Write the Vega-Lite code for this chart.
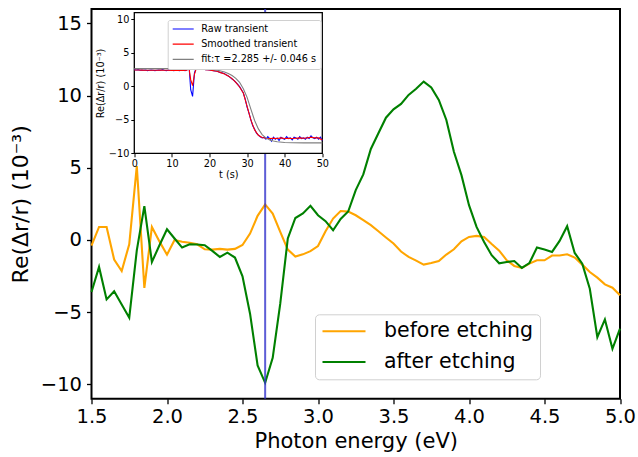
{
  "$schema": "https://vega.github.io/schema/vega-lite/v6.json",
  "width": 528.5,
  "height": 389.7,
  "autosize": {"type": "none"},
  "padding": {"left": 91.5, "top": 9, "right": 18, "bottom": 58.3},
  "background": "white",
  "config": {
    "font": "DejaVu Sans",
    "view": {"stroke": "black", "strokeWidth": 2},
    "axis": {
      "grid": false,
      "domain": false,
      "labelFont": "DejaVu Sans",
      "titleFont": "DejaVu Sans",
      "labelColor": "black",
      "titleColor": "black",
      "tickColor": "black",
      "titleFontWeight": "normal",
      "labelFlush": false,
      "labelOverlap": false,
      "labelBound": false
    },
    "legend": {"labelFont": "DejaVu Sans", "labelColor": "black"}
  },
  "datasets": {
    "spectra": [
      {"energy": 1.50, "before etching": -0.40, "after etching": -3.61},
      {"energy": 1.55, "before etching": 0.90, "after etching": -1.87},
      {"energy": 1.60, "before etching": 0.90, "after etching": -4.12},
      {"energy": 1.65, "before etching": -1.36, "after etching": -3.56},
      {"energy": 1.70, "before etching": -2.15, "after etching": -4.47},
      {"energy": 1.75, "before etching": -0.30, "after etching": -5.39},
      {"energy": 1.80, "before etching": 5.12, "after etching": -0.72},
      {"energy": 1.85, "before etching": -3.33, "after etching": 2.34},
      {"energy": 1.90, "before etching": 0.90, "after etching": -1.53},
      {"energy": 1.95, "before etching": -0.10, "after etching": -0.37},
      {"energy": 2.00, "before etching": -1.02, "after etching": 0.74},
      {"energy": 2.05, "before etching": 0.00, "after etching": 0.10},
      {"energy": 2.10, "before etching": -0.13, "after etching": -0.53},
      {"energy": 2.15, "before etching": -0.20, "after etching": -0.30},
      {"energy": 2.20, "before etching": -0.30, "after etching": -0.32},
      {"energy": 2.25, "before etching": -0.65, "after etching": -0.37},
      {"energy": 2.30, "before etching": -0.67, "after etching": -0.76},
      {"energy": 2.35, "before etching": -0.62, "after etching": -1.18},
      {"energy": 2.40, "before etching": -0.67, "after etching": -0.88},
      {"energy": 2.45, "before etching": -0.62, "after etching": -1.22},
      {"energy": 2.50, "before etching": -0.35, "after etching": -2.52},
      {"energy": 2.55, "before etching": 0.44, "after etching": -5.11},
      {"energy": 2.60, "before etching": 1.67, "after etching": -8.70},
      {"energy": 2.65, "before etching": 2.46, "after etching": -9.90},
      {"energy": 2.70, "before etching": 1.83, "after etching": -8.17},
      {"energy": 2.75, "before etching": 0.56, "after etching": -4.42},
      {"energy": 2.80, "before etching": -0.67, "after etching": 0.10},
      {"energy": 2.85, "before etching": -1.15, "after etching": 1.52},
      {"energy": 2.90, "before etching": -1.00, "after etching": 1.83},
      {"energy": 2.95, "before etching": -0.78, "after etching": 2.36},
      {"energy": 3.00, "before etching": -0.42, "after etching": 1.71},
      {"energy": 3.05, "before etching": 0.60, "after etching": 1.30},
      {"energy": 3.10, "before etching": 1.48, "after etching": 0.67},
      {"energy": 3.15, "before etching": 2.00, "after etching": 1.45},
      {"energy": 3.20, "before etching": 1.96, "after etching": 1.97},
      {"energy": 3.25, "before etching": 1.71, "after etching": 3.45},
      {"energy": 3.30, "before etching": 1.37, "after etching": 4.54},
      {"energy": 3.35, "before etching": 1.02, "after etching": 6.30},
      {"energy": 3.40, "before etching": 0.60, "after etching": 7.39},
      {"energy": 3.45, "before etching": 0.17, "after etching": 8.47},
      {"energy": 3.50, "before etching": -0.25, "after etching": 9.05},
      {"energy": 3.55, "before etching": -0.80, "after etching": 9.42},
      {"energy": 3.60, "before etching": -1.18, "after etching": 10.05},
      {"energy": 3.65, "before etching": -1.43, "after etching": 10.47},
      {"energy": 3.70, "before etching": -1.71, "after etching": 10.97},
      {"energy": 3.75, "before etching": -1.60, "after etching": 10.56},
      {"energy": 3.80, "before etching": -1.46, "after etching": 9.70},
      {"energy": 3.85, "before etching": -1.01, "after etching": 8.31},
      {"energy": 3.90, "before etching": -0.65, "after etching": 6.11},
      {"energy": 3.95, "before etching": -0.09, "after etching": 4.49},
      {"energy": 4.00, "before etching": 0.21, "after etching": 2.41},
      {"energy": 4.05, "before etching": 0.28, "after etching": 0.90},
      {"energy": 4.10, "before etching": 0.21, "after etching": -0.14},
      {"energy": 4.15, "before etching": -0.28, "after etching": -1.06},
      {"energy": 4.20, "before etching": -0.74, "after etching": -1.62},
      {"energy": 4.25, "before etching": -1.41, "after etching": -1.53},
      {"energy": 4.30, "before etching": -1.80, "after etching": -1.46},
      {"energy": 4.35, "before etching": -1.94, "after etching": -1.94},
      {"energy": 4.40, "before etching": -1.64, "after etching": -1.60},
      {"energy": 4.45, "before etching": -1.41, "after etching": -0.53},
      {"energy": 4.50, "before etching": -1.41, "after etching": -0.67},
      {"energy": 4.55, "before etching": -1.08, "after etching": -0.83},
      {"energy": 4.60, "before etching": -1.08, "after etching": -0.07},
      {"energy": 4.65, "before etching": -0.99, "after etching": 0.95},
      {"energy": 4.70, "before etching": -1.22, "after etching": -0.90},
      {"energy": 4.75, "before etching": -1.71, "after etching": -1.64},
      {"energy": 4.80, "before etching": -2.22, "after etching": -3.38},
      {"energy": 4.85, "before etching": -2.61, "after etching": -6.74},
      {"energy": 4.90, "before etching": -3.08, "after etching": -5.51},
      {"energy": 4.95, "before etching": -3.31, "after etching": -7.54},
      {"energy": 5.00, "before etching": -3.84, "after etching": -6.15}
    ],
    "transients": [
      {"t": 0, "raw": 2.5, "smoothed": 2.45, "fit": 2.65},
      {"t": 0.5, "raw": 2.45},
      {"t": 1, "raw": 2.5, "smoothed": 2.45},
      {"t": 1.5, "raw": 2.4},
      {"t": 2, "raw": 2.45, "smoothed": 2.42},
      {"t": 2.5, "raw": 2.4},
      {"t": 3, "raw": 2.45, "smoothed": 2.4},
      {"t": 3.5, "raw": 2.35},
      {"t": 4, "raw": 2.4, "smoothed": 2.4},
      {"t": 4.5, "raw": 2.45},
      {"t": 5, "raw": 2.4, "smoothed": 2.4},
      {"t": 5.5, "raw": 2.35},
      {"t": 6, "raw": 2.4, "smoothed": 2.4},
      {"t": 6.5, "raw": 2.45},
      {"t": 7, "raw": 2.4, "smoothed": 2.42},
      {"t": 7.5, "raw": 2.5},
      {"t": 8, "raw": 2.4, "smoothed": 2.4},
      {"t": 8.5, "raw": 2.35},
      {"t": 9, "raw": 2.4, "smoothed": 2.4},
      {"t": 9.5, "raw": 2.45},
      {"t": 10, "raw": 2.4, "smoothed": 2.38},
      {"t": 10.5, "raw": 2.35},
      {"t": 11, "raw": 2.4, "smoothed": 2.38},
      {"t": 11.5, "raw": 2.4},
      {"t": 12, "raw": 2.35, "smoothed": 2.37},
      {"t": 12.5, "raw": 2.4},
      {"t": 13, "raw": 2.4, "smoothed": 2.37},
      {"t": 13.5, "raw": 2.35},
      {"t": 14, "raw": 2.45, "smoothed": 2.4},
      {"t": 14.5, "raw": 3.5, "smoothed": 2.9},
      {"t": 15, "raw": -0.5, "smoothed": 1.0},
      {"t": 15.5, "raw": -1.5, "smoothed": 0.1},
      {"t": 16, "raw": 2.0, "smoothed": 1.8, "fit": 2.65},
      {"t": 16.5, "raw": 2.8, "smoothed": 2.7},
      {"t": 17, "raw": 2.7, "smoothed": 2.65},
      {"t": 17.5, "raw": 2.65},
      {"t": 18, "raw": 2.6, "smoothed": 2.58, "fit": 2.63},
      {"t": 18.5, "raw": 2.55},
      {"t": 19, "raw": 2.5, "smoothed": 2.5},
      {"t": 19.5, "raw": 2.5},
      {"t": 20, "raw": 2.45, "smoothed": 2.45, "fit": 2.58},
      {"t": 20.5, "raw": 2.4},
      {"t": 21, "raw": 2.35, "smoothed": 2.35},
      {"t": 21.5, "raw": 2.3},
      {"t": 22, "raw": 2.25, "smoothed": 2.25, "fit": 2.42},
      {"t": 22.5, "raw": 2.15},
      {"t": 23, "raw": 2.05, "smoothed": 2.05, "fit": 2.3},
      {"t": 23.5, "raw": 2.0},
      {"t": 24, "raw": 1.9, "smoothed": 1.85, "fit": 2.13},
      {"t": 24.5, "raw": 1.7},
      {"t": 25, "raw": 1.55, "smoothed": 1.55, "fit": 1.92},
      {"t": 25.5, "raw": 1.35},
      {"t": 26, "raw": 1.1, "smoothed": 1.15, "fit": 1.62},
      {"t": 26.5, "raw": 0.9},
      {"t": 27, "raw": 0.6, "smoothed": 0.6, "fit": 1.2},
      {"t": 27.5, "raw": 0.3},
      {"t": 28, "raw": -0.05, "smoothed": -0.1, "fit": 0.6},
      {"t": 28.5, "raw": -0.5},
      {"t": 29, "raw": -1.0, "smoothed": -1.0, "fit": -0.35},
      {"t": 29.5, "raw": -1.9},
      {"t": 30, "raw": -3.1, "smoothed": -3.0, "fit": -1.65},
      {"t": 30.5, "raw": -4.0},
      {"t": 31, "raw": -5.0, "smoothed": -5.0, "fit": -3.4},
      {"t": 31.5, "raw": -5.9},
      {"t": 32, "raw": -6.4, "smoothed": -6.5, "fit": -5.1},
      {"t": 32.5, "raw": -7.0},
      {"t": 33, "raw": -7.3, "smoothed": -7.3, "fit": -6.35},
      {"t": 33.5, "raw": -7.55},
      {"t": 34, "raw": -7.7, "smoothed": -7.65, "fit": -7.2},
      {"t": 34.5, "raw": -7.6},
      {"t": 35, "raw": -7.9, "smoothed": -7.75, "fit": -7.7},
      {"t": 35.5, "raw": -7.5},
      {"t": 36, "raw": -7.8, "smoothed": -7.8, "fit": -8.0},
      {"t": 36.5, "raw": -8.2},
      {"t": 37, "raw": -7.6, "smoothed": -7.75, "fit": -8.17},
      {"t": 37.5, "raw": -7.9},
      {"t": 38, "raw": -7.7, "smoothed": -7.8, "fit": -8.28},
      {"t": 38.5, "raw": -8.1},
      {"t": 39, "raw": -7.6, "smoothed": -7.7},
      {"t": 39.5, "raw": -7.8},
      {"t": 40, "raw": -7.9, "smoothed": -7.8, "fit": -8.38},
      {"t": 40.5, "raw": -7.5},
      {"t": 41, "raw": -7.8, "smoothed": -7.75},
      {"t": 41.5, "raw": -7.7},
      {"t": 42, "raw": -8.0, "smoothed": -7.8, "fit": -8.42},
      {"t": 42.5, "raw": -7.6},
      {"t": 43, "raw": -7.7, "smoothed": -7.75},
      {"t": 43.5, "raw": -7.9},
      {"t": 44, "raw": -7.5, "smoothed": -7.7},
      {"t": 44.5, "raw": -7.8},
      {"t": 45, "raw": -7.7, "smoothed": -7.75, "fit": -8.44},
      {"t": 45.5, "raw": -7.9},
      {"t": 46, "raw": -7.6, "smoothed": -7.7},
      {"t": 46.5, "raw": -7.8},
      {"t": 47, "raw": -7.4, "smoothed": -7.6},
      {"t": 47.5, "raw": -7.7},
      {"t": 48, "raw": -7.8, "smoothed": -7.7},
      {"t": 48.5, "raw": -7.6},
      {"t": 49, "raw": -7.9, "smoothed": -7.7},
      {"t": 49.5, "raw": -7.6},
      {"t": 50, "raw": -8.1, "smoothed": -8.0, "fit": -8.45}
    ]
  },
  "layer": [
    {
      "encoding": {
        "x": {
          "field": "energy",
          "type": "quantitative",
          "scale": {"domain": [1.5, 5.0], "nice": false, "zero": false},
          "axis": {
            "values": [1.5, 2.0, 2.5, 3.0, 3.5, 4.0, 4.5, 5.0],
            "format": ".1f",
            "title": "Photon energy (eV)",
            "labelFontSize": 19.5,
            "titleFontSize": 21,
            "tickSize": 5,
            "tickWidth": 1.3,
            "labelPadding": 4,
            "titlePadding": 4
          }
        }
      },
      "layer": [
        {
          "data": {"name": "spectra"},
          "transform": [{"fold": ["before etching", "after etching"], "as": ["sample", "value"]}],
          "mark": {"type": "line", "strokeWidth": 2.1},
          "encoding": {
            "y": {
              "field": "value",
              "type": "quantitative",
              "scale": {"domain": [-11, 16], "nice": false, "zero": false},
              "axis": {
                "values": [-10, -5, 0, 5, 10, 15],
                "title": "Re(Δr/r) (10⁻³)",
                "labelFontSize": 19.5,
                "titleFontSize": 22,
                "tickSize": 5,
                "tickWidth": 1.3,
                "labelPadding": 5,
                "titlePadding": 8
              }
            },
            "color": {
              "field": "sample",
              "type": "nominal",
              "scale": {"domain": ["before etching", "after etching"], "range": ["orange", "green"]},
              "legend": {
                "orient": "none",
                "legendX": 223.5,
                "legendY": 305.3,
                "title": null,
                "symbolType": "stroke",
                "symbolSize": 1849,
                "symbolStrokeWidth": 2.1,
                "clipHeight": 22,
                "labelFontSize": 20.5,
                "labelOffset": 17,
                "padding": 6,
                "rowPadding": 8.7,
                "fillColor": "white",
                "strokeColor": "#d0d0d0",
                "cornerRadius": 4
              }
            }
          }
        },
        {
          "data": {"values": [{"energy": 2.65}]},
          "mark": {"type": "rule", "color": "#3535cc", "opacity": 0.8, "strokeWidth": 2}
        }
      ]
    },
    {
      "encoding": {
        "x": {
          "field": "t",
          "type": "quantitative",
          "scale": {"domain": [0, 50], "range": [42.8, 230.8], "nice": false, "zero": false},
          "axis": {
            "orient": "bottom",
            "offset": -245.4,
            "values": [0, 10, 20, 30, 40, 50],
            "title": "t (s)",
            "labelFontSize": 9.7,
            "titleFontSize": 9.7,
            "tickSize": 3.5,
            "tickWidth": 1,
            "labelPadding": 2,
            "titlePadding": 1,
            "zindex": 1
          }
        },
        "y": {
          "field": "v",
          "type": "quantitative",
          "scale": {"domain": [-10, 11], "range": [144.3, 3.7], "nice": false, "zero": false},
          "axis": {
            "orient": "left",
            "offset": -42.8,
            "values": [-10, -5, 0, 5, 10],
            "title": "Re(Δr/r) (10⁻³)",
            "labelFontSize": 9.7,
            "titleFontSize": 9.7,
            "tickSize": 3.5,
            "tickWidth": 1,
            "labelPadding": 2,
            "titlePadding": 3,
            "zindex": 1
          }
        }
      },
      "layer": [
        {
          "data": {"values": [{"t": 0, "t2": 50, "v": -10, "v2": 11}]},
          "mark": {"type": "rect", "fill": "white", "stroke": "black", "strokeWidth": 1.3},
          "encoding": {"x2": {"field": "t2"}, "y2": {"field": "v2"}}
        },
        {
          "data": {"name": "transients"},
          "transform": [
            {"fold": ["raw", "smoothed", "fit"], "as": ["trace", "v"]},
            {"filter": "isValid(datum.v)"}
          ],
          "mark": {"type": "line", "strokeWidth": 1.1},
          "encoding": {
            "color": {
              "field": "trace",
              "type": "nominal",
              "scale": {"domain": ["raw", "smoothed", "fit"], "range": ["blue", "red", "gray"]},
              "legend": {
                "orient": "none",
                "legendX": 76.2,
                "legendY": 11,
                "title": null,
                "labelExpr": "datum.label == 'raw' ? 'Raw transient' : datum.label == 'smoothed' ? 'Smoothed transient' : 'fit:τ =2.285 +/- 0.046 s'",
                "symbolType": "stroke",
                "symbolSize": 441,
                "symbolStrokeWidth": 1.2,
                "clipHeight": 10,
                "labelFontSize": 9.7,
                "labelOffset": 6.5,
                "padding": 4,
                "rowPadding": 5.2,
                "fillColor": "white",
                "strokeColor": "#d0d0d0",
                "cornerRadius": 2
              }
            }
          }
        }
      ]
    }
  ],
  "resolve": {"scale": {"x": "independent", "y": "independent", "color": "independent"}}
}
